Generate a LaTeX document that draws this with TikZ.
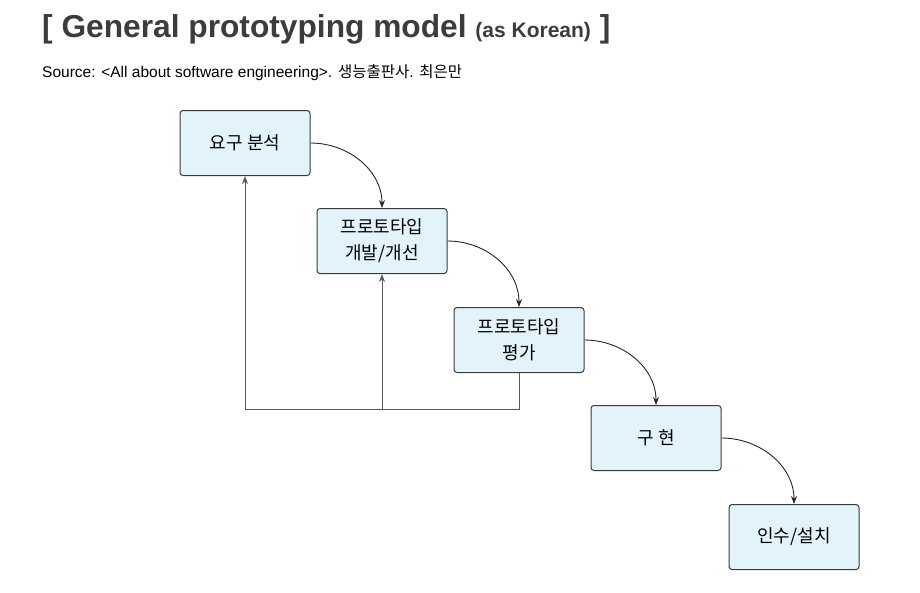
\documentclass[tikz,border=0pt]{standalone}
\usepackage{fontspec}
\setmainfont{Liberation Sans}
\newfontfamily\kr{Noto Sans CJK KR}
\usetikzlibrary{arrows.meta}
\definecolor{boxfill}{HTML}{E2F3FC}
\definecolor{boxline}{HTML}{3A3A3A}
\definecolor{titlecol}{HTML}{3D3A40}
\tikzset{
  stage/.style={draw=boxline, fill=boxfill, line width=1pt, rounded corners=3pt,
    minimum width=130pt, minimum height=65pt, align=center, inner sep=0pt,
    font=\kr\fontsize{18}{26}\selectfont},
  flow/.style={draw=black!85, line width=0.9pt, -{Stealth[length=8pt,width=6pt]}},
  back/.style={draw=black!65, line width=0.9pt},
  backarrow/.style={back, -{Stealth[length=8pt,width=6pt]}}
}
\begin{document}
\begin{tikzpicture}[x=1pt,y=-1pt]
\useasboundingbox (0,0) rectangle (920,592);
\node[anchor=base west, text=titlecol, font=\bfseries\fontsize{31.7}{36}\selectfont, inner sep=0pt] (title) at (42,37) {[ General prototyping model {\fontsize{21}{24}\selectfont(as Korean)} ]};
\node[anchor=base west, font=\fontsize{15.5}{18}\selectfont, inner sep=0pt] (src) at (42,77) {Source: <All about software engineering>. {\kr 생능출판사}. {\kr 최은만}};

\node[stage] (s1) at (245,143) {요구 분석};
\node[stage] (s2) at (382,241) {프로토타입\\개발/개선};
\node[stage] (s3) at (519,340) {프로토타입\\평가};
\node[stage] (s4) at (656,438) {구 현};
\node[stage] (s5) at (794,537) {인수/설치};

\draw[flow] (s1.east) to[out=0,in=90] (s2.north);
\draw[flow] (s2.east) to[out=0,in=90] (s3.north);
\draw[flow] (s3.east) to[out=0,in=90] (s4.north);
\draw[flow] (s4.east) to[out=0,in=90] (s5.north);

\coordinate (b3) at (519,409);
\coordinate (b2) at (382,409);
\coordinate (b1) at (245,409);
\draw[back] (s3.south) -- (b3) -- (b1);
\draw[backarrow] (b1) -- (s1.south);
\draw[backarrow] (b2) -- (s2.south);
\end{tikzpicture}
\end{document}
